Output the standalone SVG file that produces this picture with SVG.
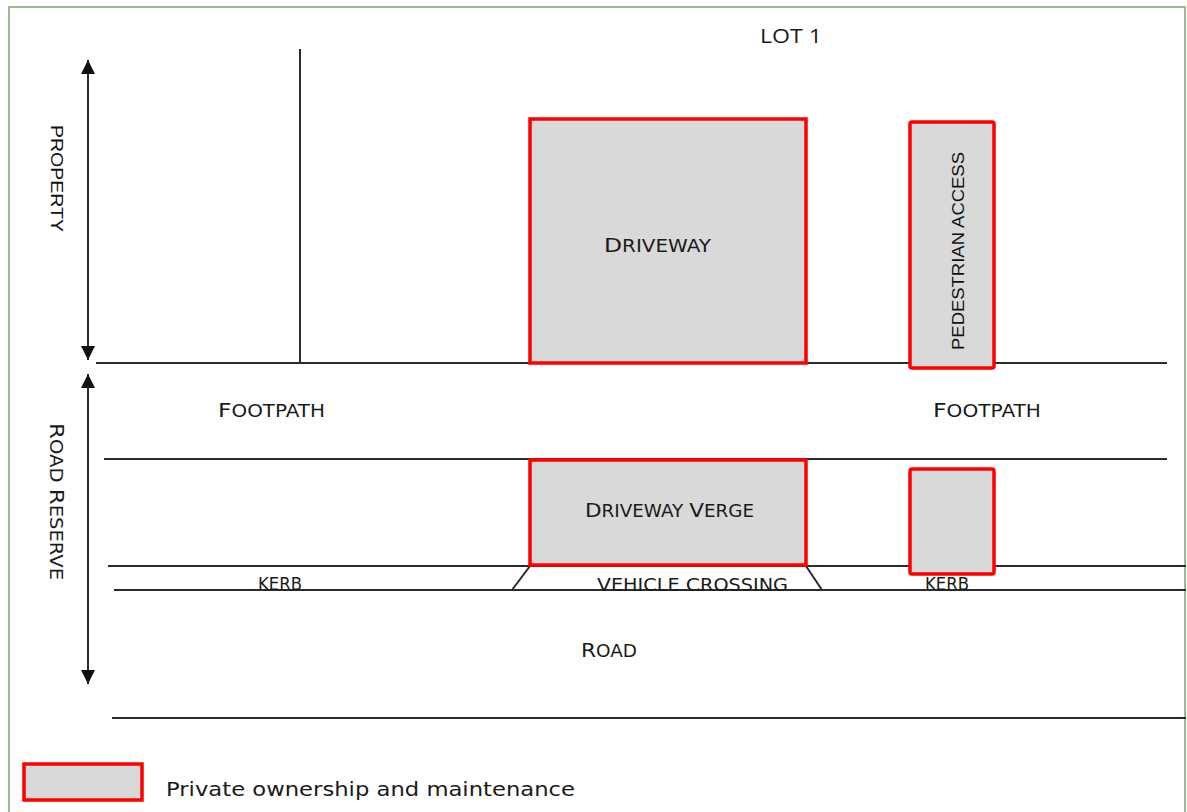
<svg xmlns="http://www.w3.org/2000/svg" width="1187" height="812" viewBox="0 0 1187 812">
<style>
.ln{stroke:#2b2b2b;stroke-width:2;fill:none}
.own{fill:#d9d9d9;stroke:#ff0000;stroke-width:3.5}
.sc{font-family:"DejaVu Sans","Liberation Sans",sans-serif;fill:#1a1a1a;font-size:17px}
.big{font-size:20px}
.ar{font-family:"Liberation Sans",Arial,sans-serif;fill:#111;font-size:17px}
.lbl{font-family:"Open Sans","Liberation Sans",sans-serif;fill:#1a1a1a;font-size:20px}
</style>
<defs>
<marker id="ah" viewBox="0 0 10 10" refX="10" refY="5" markerWidth="7" markerHeight="7" orient="auto-start-reverse" markerUnits="strokeWidth">
<path d="M0,0 L10,5 L0,10 z" fill="#111"/>
</marker>
</defs>
<rect x="0" y="0" width="1187" height="812" fill="#ffffff"/>
<rect x="9" y="7" width="1176" height="830" fill="none" stroke="#9dbb8e" stroke-width="2"/>
<text class="lbl" x="760" y="43" textLength="62" lengthAdjust="spacingAndGlyphs">LOT 1</text>

<g id="connectors">
<line class="ln" x1="88" y1="60" x2="88" y2="360" marker-start="url(#ah)" marker-end="url(#ah)"/>
<line class="ln" x1="88" y1="374" x2="88" y2="684" marker-start="url(#ah)" marker-end="url(#ah)"/>
<line class="ln" x1="300" y1="49" x2="300" y2="363"/>
<line class="ln" x1="96" y1="363" x2="1167" y2="363"/>
<line class="ln" x1="104" y1="459" x2="1167" y2="459"/>
<line class="ln" x1="108" y1="566" x2="1186" y2="566"/>
<line class="ln" x1="114" y1="590" x2="1186" y2="590"/>
<line class="ln" x1="112" y1="718" x2="1186" y2="718"/>
<line class="ln" x1="530" y1="566" x2="512" y2="590" stroke-width="1.5"/>
<line class="ln" x1="806" y1="566" x2="822" y2="590" stroke-width="1.5"/>
</g>

<g id="property-label">
<text class="ar" transform="translate(57,125) rotate(90)" x="0" y="6" textLength="107" lengthAdjust="spacingAndGlyphs">PROPERTY</text>
</g>
<g id="road-reserve-label">
<text class="sc" transform="translate(57,423) rotate(90)" x="0" y="7" textLength="157" lengthAdjust="spacingAndGlyphs"><tspan class="big">R</tspan>OAD <tspan class="big">R</tspan>ESERVE</text>
</g>

<g id="footpath-left">
<text class="sc" x="218" y="417" textLength="107" lengthAdjust="spacingAndGlyphs"><tspan class="big">F</tspan>OOTPATH</text>
</g>
<g id="footpath-right">
<text class="sc" x="933" y="417" textLength="108" lengthAdjust="spacingAndGlyphs"><tspan class="big">F</tspan>OOTPATH</text>
</g>
<g id="kerb-left">
<text class="sc" x="258" y="590" textLength="44" lengthAdjust="spacingAndGlyphs" font-size="14"><tspan font-size="17">K</tspan>ERB</text>
</g>
<g id="vehicle-crossing">
<text class="sc" x="597" y="591" textLength="191" lengthAdjust="spacingAndGlyphs" font-size="15"><tspan font-size="18">V</tspan>EHICLE <tspan font-size="18">C</tspan>ROSSING</text>
</g>
<g id="kerb-right">
<text class="sc" x="925" y="590" textLength="44" lengthAdjust="spacingAndGlyphs" font-size="14"><tspan font-size="17">K</tspan>ERB</text>
</g>
<g id="road">
<text class="sc" x="581" y="657" textLength="56" lengthAdjust="spacingAndGlyphs"><tspan class="big">R</tspan>OAD</text>
</g>

<g id="driveway">
<rect class="own" x="530" y="119" width="276" height="244"/>
<text class="sc" x="604" y="252" textLength="107" lengthAdjust="spacingAndGlyphs"><tspan class="big">D</tspan>RIVEWAY</text>
</g>
<g id="pedestrian-access">
<rect class="own" x="910" y="122" width="84" height="246" rx="2" stroke-width="4"/>
<text class="ar" transform="translate(958,350) rotate(-90)" x="0" y="6" textLength="198" lengthAdjust="spacingAndGlyphs">PEDESTRIAN ACCESS</text>
</g>
<g id="driveway-verge">
<rect class="own" x="530" y="460" width="276" height="105"/>
<text class="sc" x="585" y="517" textLength="169" lengthAdjust="spacingAndGlyphs"><tspan class="big">D</tspan>RIVEWAY <tspan class="big">V</tspan>ERGE</text>
</g>
<g id="pedestrian-verge">
<rect class="own" x="910" y="469" width="84" height="105" rx="2" stroke-width="4"/>
</g>

<g id="legend">
<rect class="own" x="24" y="764" width="118" height="36"/>
<text x="166" y="796" font-family="DejaVu Sans,'Liberation Sans',sans-serif" font-size="19" fill="#1a1a1a" textLength="409" lengthAdjust="spacingAndGlyphs">Private ownership and maintenance</text>
</g>
</svg>
